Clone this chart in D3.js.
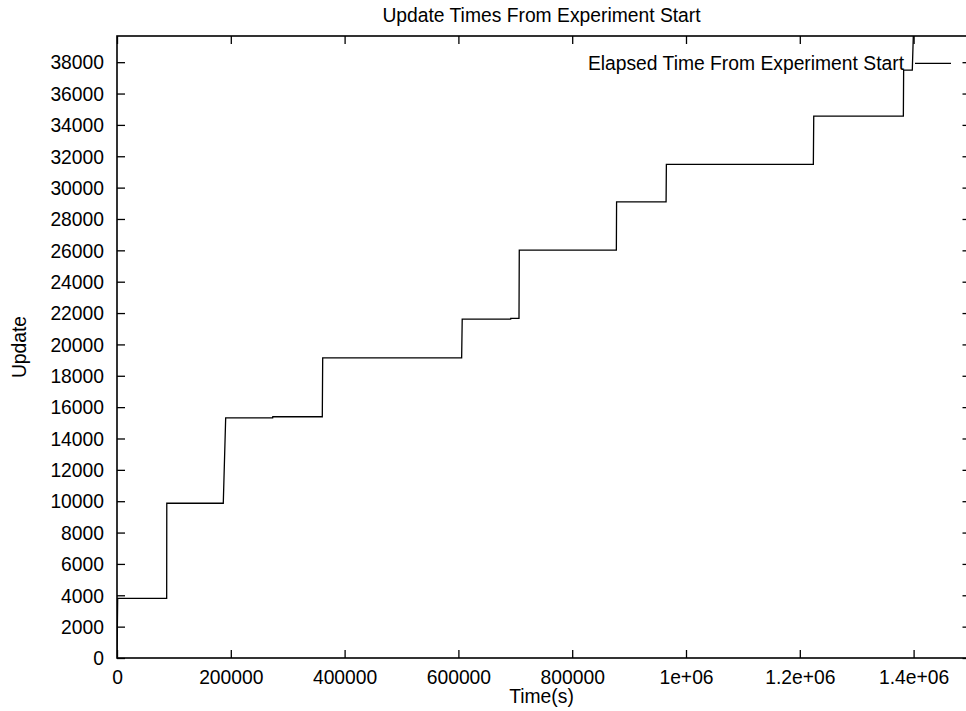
<!DOCTYPE html>
<html>
<head>
<meta charset="utf-8">
<script src="https://cdn.jsdelivr.net/npm/d3@7"></script>
<style>
  html, body { margin: 0; padding: 0; background: #fff; overflow: hidden; }
  svg { display: block; }
  text { font-family: "Liberation Sans", Arial, Helvetica, sans-serif; fill: #000; }
</style>
</head>
<body>
<script>
// ---- data ----
const timeSeconds = [0, 1200, 87300, 87500, 186800, 191000, 273600, 273800, 360800, 361500,
  605700, 606700, 691900, 692000, 706500, 707000, 877600, 878000, 965000, 965500,
  1223800, 1224500, 1382000, 1382500, 1397700, 1399500];
const updateValues = [0, 3806, 3806, 9870, 9870, 15320, 15320, 15385, 15385, 19147,
  19147, 21615, 21615, 21660, 21660, 26014, 26014, 29094, 29094, 31478,
  31478, 34558, 34558, 37490, 37490, 39670];
const xTicks = [0, 200000, 400000, 600000, 800000, 1000000, 1200000, 1400000];
const xTickLabels = ["0", "200000", "400000", "600000", "800000", "1e+06", "1.2e+06", "1.4e+06"];
const yTicks = [0, 2000, 4000, 6000, 8000, 10000, 12000, 14000, 16000, 18000, 20000,
  22000, 24000, 26000, 28000, 30000, 32000, 34000, 36000, 38000];
const xDomain = [0, 1500000];
const yDomain = [0, 39670];
const titleText = "Update Times From Experiment Start";
const xLabelText = "Time(s)";
const yLabelText = "Update";
const seriesName = "Elapsed Time From Experiment Start";

// ---- layout ----
const W = 966, H = 711;
const L = 117, R = 970.5, T = 36, B = 658;
const tickLen = 8;
const fs = 19.3;

const svg = d3.select("body").append("svg").attr("width", W).attr("height", H);

const x = d3.scaleLinear().domain(xDomain).range([L, R]);
const y = d3.scaleLinear().domain(yDomain).range([B, T]);

// clip
svg.append("clipPath").attr("id", "plotclip")
  .append("rect").attr("x", L).attr("y", T).attr("width", R - L).attr("height", B - T);

// data line
const pts = timeSeconds.map((t, i) => [t, updateValues[i]]);
svg.append("path")
  .datum(pts)
  .attr("clip-path", "url(#plotclip)")
  .attr("fill", "none")
  .attr("stroke", "#000")
  .attr("stroke-width", 1.3)
  .attr("d", d3.line().x(d => x(d[0])).y(d => y(d[1])));

// axes with inner ticks (gnuplot style, mirrored)
const xFmt = (d) => xTickLabels[xTicks.indexOf(d)];
const axB = svg.append("g").attr("transform", `translate(0,${B})`)
  .call(d3.axisBottom(x).tickValues(xTicks).tickFormat(xFmt).tickSizeInner(-tickLen).tickSizeOuter(0).tickPadding(18));
const axT = svg.append("g").attr("transform", `translate(0,${T})`)
  .call(d3.axisTop(x).tickValues(xTicks).tickFormat("").tickSizeInner(-tickLen).tickSizeOuter(0));
const axL = svg.append("g").attr("transform", `translate(${L},0)`)
  .call(d3.axisLeft(y).tickValues(yTicks).tickFormat(d3.format("d")).tickSizeInner(-tickLen).tickSizeOuter(0).tickPadding(13));
const axR = svg.append("g").attr("transform", `translate(${R},0)`)
  .call(d3.axisRight(y).tickValues(yTicks).tickFormat("").tickSizeInner(-tickLen).tickSizeOuter(0));

[axB, axT, axL, axR].forEach(g => {
  g.selectAll(".domain").remove();
  g.selectAll(".tick line").attr("stroke", "#000").attr("stroke-width", 1.3);
  g.selectAll("text").attr("font-size", fs).attr("font-family", "'Liberation Sans', Arial, sans-serif").attr("fill", "#000");
});
axB.selectAll(".tick text").attr("dy", null).attr("y", 26);
axL.selectAll(".tick text").attr("dy", "0.35em").attr("x", -13);

// border
svg.append("rect").attr("x", L).attr("y", T).attr("width", R - L).attr("height", B - T)
  .attr("fill", "none").attr("stroke", "#000").attr("stroke-width", 1.6);

// title and labels
svg.append("text").attr("x", 541.5).attr("y", 21.7).attr("text-anchor", "middle")
  .attr("font-size", fs).text(titleText);
svg.append("text").attr("x", 541.5).attr("y", 703).attr("text-anchor", "middle")
  .attr("font-size", fs).text(xLabelText);
svg.append("text").attr("transform", `translate(26,347) rotate(-90)`).attr("text-anchor", "middle")
  .attr("font-size", fs).text(yLabelText);

// legend
svg.append("text").attr("x", 904).attr("y", 63.3).attr("dy", "0.35em").attr("text-anchor", "end")
  .attr("font-size", fs).text(seriesName);
svg.append("line").attr("x1", 915).attr("x2", 951).attr("y1", 63.3).attr("y2", 63.3)
  .attr("stroke", "#000").attr("stroke-width", 1.3);
</script>
</body>
</html>
